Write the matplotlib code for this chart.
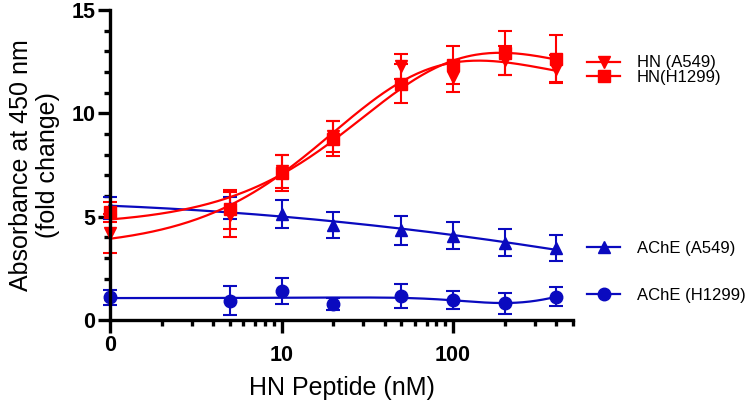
import numpy as np
import matplotlib
matplotlib.use("Agg")
from matplotlib import pyplot as plt
from matplotlib.lines import Line2D
from matplotlib.ticker import LogLocator, NullFormatter, MultipleLocator

plt.rcParams['font.family'] = ['Liberation Sans', 'DejaVu Sans']

# doses in nM, 0 is drawn at the start of the log axis
doses = np.array([0, 5, 10, 20, 50, 100, 200, 400])

hn_a549 = [4.2, 5.1, 7.2, 8.9, 12.27, 11.75, 12.56, 12.16]
hn_a549_err = [0.95, 1.1, 0.8, 0.75, 0.6, 0.7, 0.7, 0.68]
hn_h1299 = [5.23, 5.35, 7.13, 8.78, 11.43, 12.35, 12.92, 12.64]
hn_h1299_err = [0.5, 0.93, 0.87, 0.85, 0.95, 0.93, 1.08, 1.13]
ache_a549 = [5.42, 5.43, 5.13, 4.59, 4.35, 4.07, 3.73, 3.49]
ache_a549_err = [0.54, 0.52, 0.67, 0.64, 0.7, 0.65, 0.65, 0.63]
ache_h1299 = [1.10, 0.93, 1.40, 0.77, 1.16, 0.97, 0.80, 1.13]
ache_h1299_err = [0.35, 0.7, 0.63, 0.3, 0.6, 0.43, 0.5, 0.45]

red = '#FF0000'
blue = '#0A0ABF'

x_pos = np.where(doses == 0, 1, doses).astype(float)
lx = np.log10(x_pos)
x_fit = np.logspace(0, np.log10(400), 200)
lx_fit = np.log10(x_fit)


def sig(l, lc, h):
    return 1.0 / (1.0 + 10.0 ** ((lc - l) * h))


def bell_fit(y, h1=(0.5, 2.0, 16), h2=(0.5, 3.0, 11)):
    # bell shaped dose response (rise + fall), brute force over the nonlinear parts
    y = np.asarray(y, float)
    g1 = np.array(np.meshgrid(np.linspace(0.3, 2.2, 39), np.linspace(*h1))).reshape(2, -1)
    g2 = np.array(np.meshgrid(np.linspace(1.8, 3.6, 37), np.linspace(*h2))).reshape(2, -1)
    s1 = sig(lx[None, :], g1[0][:, None], g1[1][:, None])
    s2 = sig(lx[None, :], g2[0][:, None], g2[1][:, None])
    n1, n2 = s1.shape[0], s2.shape[0]
    A = np.empty((n1, n2, len(lx), 3))
    A[..., 0] = 1.0
    A[..., 1] = s1[:, None, :]
    A[..., 2] = s2[None, :, :]
    AtA = np.einsum('abki,abkj->abij', A, A) + 1e-9 * np.eye(3)
    Aty = np.einsum('abki,k->abi', A, y)
    coef = np.linalg.solve(AtA, Aty[..., None])[..., 0]
    res = ((np.einsum('abki,abi->abk', A, coef) - y) ** 2).sum(-1)
    res[(g2[0][None, :] - g1[0][:, None]) < 0.5] = np.inf
    i, j = np.unravel_index(np.argmin(res), res.shape)
    a, b, c = coef[i, j]
    return a + b * sig(lx_fit, g1[0][i], g1[1][i]) + c * sig(lx_fit, g2[0][j], g2[1][j])


def poly_fit(y, deg):
    return np.polyval(np.polyfit(lx, y, deg), lx_fit)


fig = plt.figure(figsize=(7.48, 4.05), dpi=100)
ax = fig.add_axes([110 / 748, 85 / 405, 463 / 748, 310 / 405])

unit_slope = (1.0, 1.0, 1)
series = [
    (ache_h1299, ache_h1299_err, 'o', blue, 'AChE (H1299)', bell_fit(ache_h1299)),
    (ache_a549, ache_a549_err, '^', blue, 'AChE (A549)', poly_fit(ache_a549, 2)),
    (hn_a549, hn_a549_err, 'v', red, 'HN (A549)', bell_fit(hn_a549, unit_slope, unit_slope)),
    (hn_h1299, hn_h1299_err, 's', red, 'HN(H1299)', bell_fit(hn_h1299, unit_slope, unit_slope)),
]

handles = {}
for y, err, mk, col, lab, curve in series:
    ax.plot(x_fit, curve, color=col, lw=1.6, clip_on=False)
    ax.errorbar(x_pos, y, yerr=err, fmt=mk, color=col, ms=9, capsize=5,
                elinewidth=1.5, capthick=1.5, clip_on=False)
    handles[lab] = Line2D([], [], color=col, marker=mk, ms=9, lw=1.6)

ax.set_xscale('log')
ax.set_xlim(1, 500)
ax.set_ylim(0, 15)
ax.set_xticks([1, 10, 100])
ax.set_xticklabels(['0', '10', '100'])
ax.xaxis.set_minor_locator(LogLocator(base=10, subs=np.arange(2, 10)))
ax.xaxis.set_minor_formatter(NullFormatter())
ax.yaxis.set_major_locator(MultipleLocator(5))
ax.yaxis.set_minor_locator(MultipleLocator(1))

for s in ['top', 'right']:
    ax.spines[s].set_visible(False)
for s in ['left', 'bottom']:
    ax.spines[s].set_linewidth(2.4)
ax.tick_params(which='major', length=9, width=2.4, labelsize=15.5)
ax.tick_params(which='minor', length=4.5, width=2.4)
ax.tick_params(axis='x', which='major', pad=9)
ax.tick_params(axis='y', which='major', pad=1.5)
ax.xaxis.get_major_ticks()[0].set_pad(2)
for t in ax.get_xticklabels() + ax.get_yticklabels():
    t.set_fontweight('bold')

ax.set_xlabel('HN Peptide (nM)', fontsize=18, labelpad=7)
ax.set_ylabel('Absorbance at 450 nm\n(fold change)', fontsize=18, labelpad=8,
              linespacing=1.15)

fig.legend([handles['HN (A549)'], handles['HN(H1299)']], ['HN (A549)', 'HN(H1299)'],
           loc='center left', bbox_to_anchor=(587 / 748, 1 - 70 / 405), frameon=False,
           fontsize=12, labelspacing=-0.05, handlelength=2.0, handletextpad=1.0,
           borderpad=0, borderaxespad=0)
fig.legend([handles['AChE (A549)'], handles['AChE (H1299)']], ['AChE (A549)', 'AChE (H1299)'],
           loc='center left', bbox_to_anchor=(587 / 748, 1 - 272 / 405), frameon=False,
           fontsize=12, labelspacing=1.9, handlelength=2.0, handletextpad=1.0,
           borderpad=0, borderaxespad=0)

fig.savefig('out.png', dpi=100)
